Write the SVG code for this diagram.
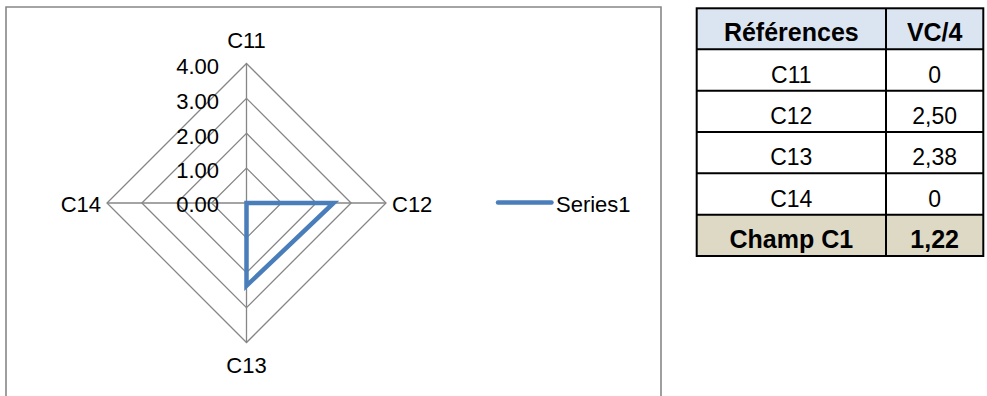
<svg xmlns="http://www.w3.org/2000/svg" width="987" height="396" viewBox="0 0 987 396">
<style>
text{font-family:"Liberation Sans",Arial,sans-serif;fill:#000}
.ax{font-size:22px}
.tk{font-size:22px;text-anchor:end}
.tb{font-size:23px;text-anchor:middle}
.bd{font-weight:bold;font-size:25px}
.grid{fill:none;stroke:#868686;stroke-width:1.3}
.tl{stroke:#000;stroke-width:2;fill:none}
</style>
<rect width="987" height="396" fill="#fff"/>
<g id="chart">
<path d="M6 400 V7 H661 V400" fill="none" stroke="#878787" stroke-width="1.6"/>
<g id="grid">
<polygon class="grid" points="246.5,63.5 386,203 246.5,342.5 107,203"/>
<polygon class="grid" points="246.5,98.4 351.1,203 246.5,307.6 141.9,203"/>
<polygon class="grid" points="246.5,133.3 316.2,203 246.5,272.7 176.8,203"/>
<polygon class="grid" points="246.5,168.1 281.4,203 246.5,237.9 211.6,203"/>
<path class="grid" d="M246.5 63.5V342.5M107 203H386" stroke-width="1.6"/>
</g>
<g id="series1">
<polygon points="246.5,203 333.6,203 246.5,285.8" fill="none" stroke="#4a7ebb" stroke-width="4.5" stroke-linejoin="miter"/>
</g>
<g id="labels">
<text class="ax" x="246.5" y="48" text-anchor="middle">C11</text>
<text class="ax" x="392" y="212">C12</text>
<text class="ax" x="246.5" y="373" text-anchor="middle">C13</text>
<text class="ax" x="101" y="212" text-anchor="end">C14</text>
<text class="tk" x="219" y="74">4.00</text>
<text class="tk" x="219" y="109">3.00</text>
<text class="tk" x="219" y="143.5">2.00</text>
<text class="tk" x="219" y="177.5">1.00</text>
<text class="tk" x="219" y="212">0.00</text>
</g>
<g id="legend">
<line x1="498" y1="202.5" x2="551.5" y2="202.5" stroke="#4a7ebb" stroke-width="4.5" stroke-linecap="round"/>
<text class="ax" x="556" y="212">Series1</text>
</g>
</g>
<g id="table">
<rect x="696.7" y="8.3" width="286.6" height="41" fill="#dbe5f1"/>
<rect x="696.7" y="214.7" width="286.6" height="41.3" fill="#ddd9c4"/>
<g class="tl">
<rect x="696.7" y="8.3" width="286.6" height="247.7"/>
<path d="M886 8.3V256M696.7 49.3H983.3M696.7 90.7H983.3M696.7 132H983.3M696.7 173.3H983.3M696.7 214.7H983.3"/>
</g>
<text class="tb bd" x="791.3" y="41">Références</text>
<text class="tb bd" x="934.7" y="41">VC/4</text>
<text class="tb" x="791.3" y="82.5">C11</text>
<text class="tb" x="934.7" y="82.5">0</text>
<text class="tb" x="791.3" y="124">C12</text>
<text class="tb" x="934.7" y="124">2,50</text>
<text class="tb" x="791.3" y="165">C13</text>
<text class="tb" x="934.7" y="165">2,38</text>
<text class="tb" x="791.3" y="206.5">C14</text>
<text class="tb" x="934.7" y="206.5">0</text>
<text class="tb bd" x="791.3" y="248">Champ C1</text>
<text class="tb bd" x="934.7" y="248">1,22</text>
</g>
</svg>
